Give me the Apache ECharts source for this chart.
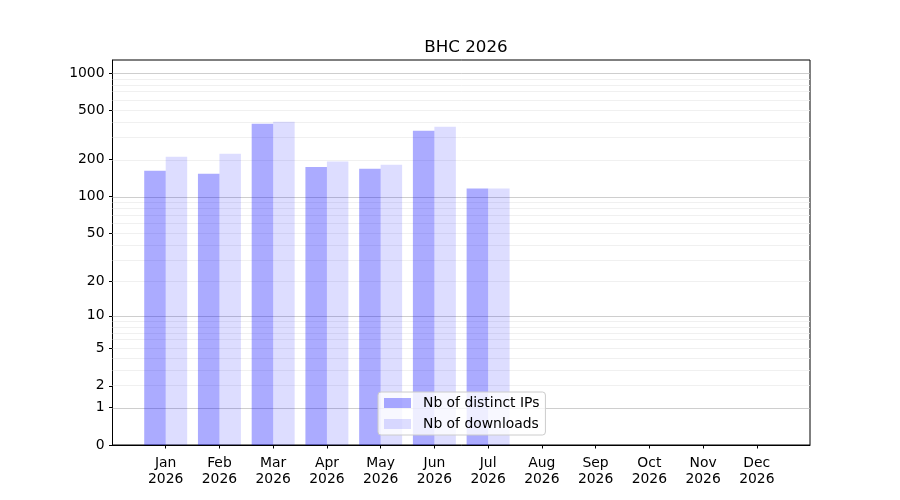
<!DOCTYPE html>
<html>
<head>
<meta charset="utf-8">
<script src="https://cdn.jsdelivr.net/npm/echarts@6/dist/echarts.min.js"></script>
<style>
html,body{margin:0;padding:0;background:#fff;}
#chart{width:900px;height:500px;}
</style>
</head>
<body>
<div id="chart"></div>
<script>
// ---- data ----
const titleText = 'BHC 2026';
const months = ['Jan','Feb','Mar','Apr','May','Jun','Jul','Aug','Sep','Oct','Nov','Dec'];
const year = '2026';
const ipCounts = [162, 153, 389, 174, 168, 342, 116, 0, 0, 0, 0, 0];
const downloadCounts = [210, 222, 404, 192, 181, 368, 116, 0, 0, 0, 0, 0];
const yTickLabels = [0, 1, 2, 5, 10, 20, 50, 100, 200, 500, 1000];
const majorGrid = [1, 10, 100, 1000];
const minorGrid = [2,3,4,5,6,7,8,9,20,30,40,50,60,70,80,90,200,300,400,500,600,700,800,900];
const seriesNames = ['Nb of distinct IPs', 'Nb of downloads'];

// symlog-like transform: log10(v + 1)
const f = v => Math.log10(v + 1);
const yMax = 3.105;
const xMin = -0.99, xMax = 11.99;
const FONT = 'DejaVu Sans';

const chart = echarts.init(document.getElementById('chart'), null, {renderer: 'canvas'});

function gridSeries(values, color) {
  return {
    type: 'line', data: [], z: 1, silent: true,
    markLine: {
      z: 1, silent: true, symbol: ['none', 'none'], animation: false,
      label: {show: false},
      lineStyle: {type: 'solid', color: color, width: 0.8},
      emphasis: {disabled: true},
      data: values.map(v => ({yAxis: f(v)}))
    }
  };
}

const option = {
  animation: false,
  backgroundColor: '#fff',
  title: {
    text: titleText, left: 461, top: 34, textAlign: 'center',
    textStyle: {fontFamily: FONT, fontSize: 16.7, fontWeight: 'normal', color: '#000'}
  },
  grid: {
    left: 112.5, right: 90, top: 60, bottom: 55,
    show: true, borderColor: '#000', borderWidth: 1, backgroundColor: 'transparent'
  },
  legend: {
    orient: 'vertical', left: 378, top: 392,
    data: seriesNames,
    icon: 'rect', itemWidth: 27, itemHeight: 10, itemGap: 7,
    padding: [4, 6, 4, 6],
    backgroundColor: 'rgba(255,255,255,0.8)',
    borderColor: '#cccccc', borderWidth: 1, borderRadius: 3,
    textStyle: {fontFamily: FONT, fontSize: 13.9, color: '#000', lineHeight: 14, padding: [0, 0, 0, 7]}
  },
  xAxis: {
    type: 'value', min: xMin, max: xMax,
    axisLine: {show: true, onZero: false, lineStyle: {color: '#000', width: 1}},
    axisTick: {show: true, inside: false, length: 3.5, lineStyle: {color: '#000'},
               customValues: months.map((m, i) => i)},
    axisLabel: {
      customValues: months.map((m, i) => i),
      formatter: v => months[Math.round(v)] + '\n' + year,
      fontFamily: FONT, fontSize: 13.9, color: '#000', lineHeight: 16, margin: 10
    },
    splitLine: {show: false}
  },
  yAxis: {
    type: 'value', min: 0, max: yMax, position: 'left',
    axisLine: {show: true, onZero: false, lineStyle: {color: '#000', width: 1}},
    axisTick: {show: true, inside: false, length: 3.5, lineStyle: {color: '#000'},
               customValues: yTickLabels.map(f)},
    axisLabel: {
      customValues: yTickLabels.map(f),
      formatter: v => String(Math.round(Math.pow(10, v) - 1)),
      fontFamily: FONT, fontSize: 13.9, color: '#000', margin: 8
    },
    splitLine: {show: false}
  },
  series: [
    gridSeries(minorGrid, '#ececec'),
    gridSeries(majorGrid, '#c2c2c2'),
    {
      name: seriesNames[0], type: 'bar',
      barWidth: '40%', barGap: '0%', z: 3,
      itemStyle: {color: 'rgba(0,0,255,0.33)'},
      data: ipCounts.map((v, i) => [i, f(v)])
    },
    {
      name: seriesNames[1], type: 'bar',
      barWidth: '40%', barGap: '0%', z: 3,
      itemStyle: {color: 'rgba(0,0,255,0.133)'},
      data: downloadCounts.map((v, i) => [i, f(v)])
    }
  ]
};
chart.setOption(option);
</script>
</body>
</html>
